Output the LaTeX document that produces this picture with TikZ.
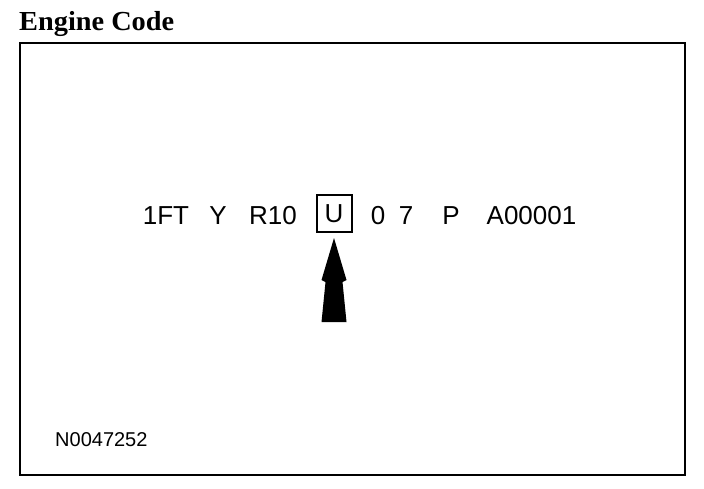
\documentclass[tikz,border=0pt]{standalone}
\usepackage{fontspec}
\setmainfont{Liberation Serif}
\setsansfont{Liberation Sans}
\usetikzlibrary{calc}
\begin{document}
\begin{tikzpicture}[x=1pt,y=1pt,
  code/.style={font=\sffamily\fontsize{26}{26}\selectfont, inner sep=0pt, anchor=base},
  frame/.style={line width=2.4pt},
  title/.style={font=\bfseries\fontsize{27.5}{27.5}\selectfont, inner sep=0pt, anchor=base west},
  ref/.style={font=\sffamily\fontsize{20}{20}\selectfont, inner sep=0pt, anchor=base west},
  hibox/.style={draw, line width=2pt, minimum width=35pt, minimum height=37pt, inner sep=0pt, font=\sffamily\fontsize{26}{26}\selectfont},
  bigarrow/.style={fill=black, draw=none}]
\useasboundingbox (0,0) rectangle (704,-488);
\node[title] (t) at (19,-30) {\scalebox{1.03}[1]{Engine Code}};
\draw[frame] (20.2,-43.2) rectangle (684.8,-475);
\node[code] (c1) at (166,-224) {1FT};
\node[code] (c2) at (218,-224) {Y};
\node[code] (c3) at (273,-224) {R10};
\node[hibox] (u) at (334,-213.5) {U};
\node[code] (c5) at (378,-224) {0};
\node[code] (c6) at (406,-224) {7};
\node[code] (c7) at (451,-224) {P};
\node[code] (c8) at (531.5,-224) {A00001};
\coordinate (tip) at ($(u.south)+(0,-5)$);
\fill[bigarrow] (tip) -- ++(12.5,-42) -- ++(-4,-2) -- ++(4,-40) -- ++(-25,0) -- ++(4,40) -- ++(-4,2) -- cycle;
\node[ref] (n) at (55,-446) {N0047252};
\end{tikzpicture}
\end{document}
